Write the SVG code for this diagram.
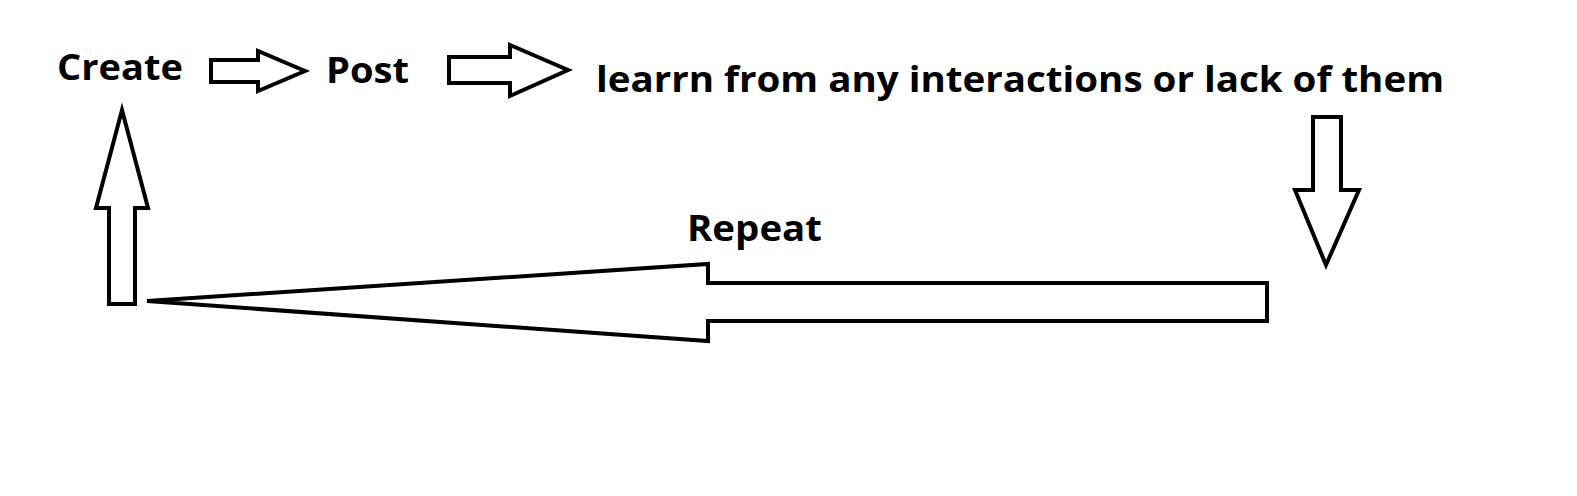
<svg xmlns="http://www.w3.org/2000/svg" width="1577" height="496" viewBox="0 0 1577 496">
<style>
text{font-family:"Open Sans","Liberation Sans",sans-serif;font-weight:bold;font-size:36px;fill:#000}
.a{fill:#fff;stroke:#000;stroke-width:4;stroke-linejoin:miter}
</style>
<rect width="1577" height="496" fill="#fff"/>
<g id="create"><text x="57" y="80" textLength="126" lengthAdjust="spacingAndGlyphs">Create</text></g>
<g id="post"><text x="326" y="83" textLength="83" lengthAdjust="spacingAndGlyphs">Post</text></g>
<g id="learn"><text x="596" y="92" textLength="848" lengthAdjust="spacingAndGlyphs">learrn from any interactions or lack of them</text></g>
<g id="repeat"><text x="687" y="241" textLength="135" lengthAdjust="spacingAndGlyphs">Repeat</text></g>
<g id="connectors">
<polygon class="a" points="211,60 258,60 258,51 305,71 258,91 258,82 211,82"/>
<polygon class="a" points="449,57 510,57 510,45 568,70 510,96 510,83 449,83"/>
<polygon class="a" points="1313,117 1341,117 1341,190 1359,190 1326,265 1295,190 1313,190"/>
<polygon class="a" points="1267,283 708,283 708,264 147,301 708,341 708,321 1267,321"/>
<polygon class="a" points="109,304 135,304 135,208 148,208 122,110 96,208 109,208"/>
</g>
</svg>
